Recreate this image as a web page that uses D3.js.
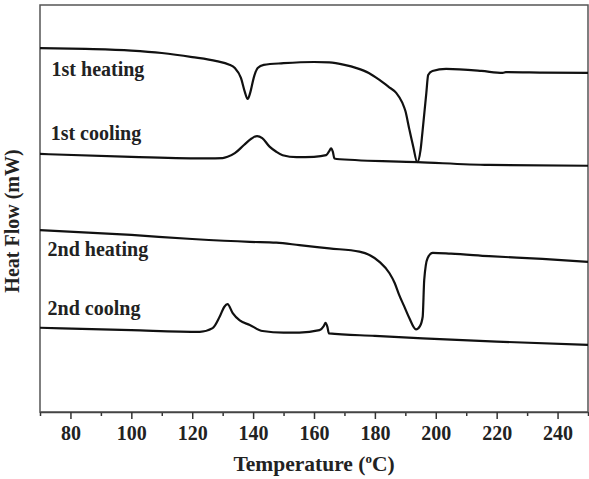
<!DOCTYPE html>
<html>
<head>
<meta charset="utf-8">
<script src="https://cdn.jsdelivr.net/npm/d3@7"></script>
<style>
    body { margin: 0; background: #fff; }
    text { font-family: "Liberation Serif", "Times New Roman", serif; font-weight: bold; fill: #222; }
</style>
</head>
<body>
<div id="chart"></div>
<script>

// temperature (°C) / heat flow (arbitrary, mW)
const heat1T = [70, 85, 100, 110, 120, 128, 132, 134, 136, 137.3, 138.2, 139.1, 140.2, 141.5, 143.5, 150, 160, 165, 170, 174, 178, 181.5, 184.5, 187, 189, 190, 191.3, 192.6, 193.9, 195, 195.6, 196.9, 197.5, 198.9, 203.4, 215, 222, 223, 235, 250];
const heat1V = [8.94, 8.92, 8.88, 8.82, 8.72, 8.62, 8.54, 8.45, 8.21, 7.86, 7.69, 7.86, 8.21, 8.45, 8.53, 8.57, 8.60, 8.59, 8.53, 8.45, 8.33, 8.16, 7.99, 7.84, 7.60, 7.40, 6.95, 6.52, 6.14, 6.44, 6.86, 7.84, 8.28, 8.38, 8.43, 8.38, 8.33, 8.35, 8.34, 8.33];

const cool1T = [70, 100, 125, 130, 131.6, 134, 137, 139.5, 141.3, 143, 145.4, 147.5, 149.7, 154.3, 160, 164, 165, 165.6, 166.2, 166.7, 168.5, 194, 217.5, 250];
const cool1V = [6.34, 6.27, 6.23, 6.24, 6.27, 6.36, 6.56, 6.72, 6.78, 6.73, 6.52, 6.40, 6.31, 6.26, 6.27, 6.31, 6.41, 6.48, 6.39, 6.23, 6.21, 6.14, 6.07, 6.05];

const heat2T = [70, 100, 120, 138.9, 147.6, 155.2, 165, 174.9, 178.2, 181.5, 184.8, 186.5, 188, 189.6, 191.3, 193.5, 194.8, 195.7, 196.2, 197.3, 199, 205, 217.5, 235, 250];
const heat2V = [4.47, 4.35, 4.25, 4.18, 4.16, 4.10, 4.02, 3.94, 3.86, 3.69, 3.41, 3.17, 2.87, 2.60, 2.31, 2.03, 2.11, 2.34, 3.24, 3.78, 3.91, 3.89, 3.83, 3.76, 3.69];

const cool2T = [70, 100, 122.5, 126.7, 129, 130.5, 131.6, 133.3, 135.6, 138.9, 143.1, 150, 155.2, 161.8, 163.2, 163.8, 164.4, 164.9, 180, 195.7, 220, 250];
const cool2V = [2.07, 2.01, 1.97, 2.06, 2.34, 2.58, 2.65, 2.43, 2.25, 2.14, 1.99, 1.95, 1.95, 2.01, 2.11, 2.19, 2.09, 1.93, 1.87, 1.81, 1.73, 1.65];

const curveNames = ["1st heating", "1st cooling", "2nd heating", "2nd coolng"];
const labelTemps = [73.8, 73.5, 72.5, 72.5];
const labelValues = [8.26, 6.68, 3.83, 2.38];

const xTicks = [80, 100, 120, 140, 160, 180, 200, 220, 240];
const xMinorTicks = [70, 90, 110, 130, 150, 170, 190, 210, 230, 250];

let margin = {top: 5, right: 1, bottom: 67, left: 40};
let width = 589 - margin.left - margin.right;
let height = 479 - margin.top - margin.bottom;

let svg = d3.select("#chart").append("svg")
    .attr("width", 589)
    .attr("height", 479)
    .append("g")
    .attr("transform", "translate(" + margin.left + "," + margin.top + ")");

let x = d3.scaleLinear().domain([70, 250]).range([0, width]);
let y = d3.scaleLinear().domain([0, 10]).range([height, 0]);

// frame
svg.append("rect")
    .attr("width", width)
    .attr("height", height)
    .attr("fill", "none")
    .attr("stroke", "#555")
    .attr("stroke-width", 1.5);

// minor ticks
let minorAxis = svg.append("g")
    .attr("transform", "translate(0," + height + ")")
    .call(d3.axisBottom(x).tickValues(xMinorTicks).tickSize(4).tickFormat(""));
minorAxis.select(".domain").remove();
minorAxis.selectAll("line").attr("stroke", "#333").attr("stroke-width", 1.5);

// major ticks
let xAxis = svg.append("g")
    .attr("transform", "translate(0," + height + ")")
    .call(d3.axisBottom(x).tickValues(xTicks).tickSize(7).tickSizeOuter(0));
xAxis.select(".domain").attr("stroke", "#444").attr("stroke-width", 1.5);
xAxis.selectAll("line").attr("stroke", "#333").attr("stroke-width", 1.5);
xAxis.selectAll("text")
    .attr("y", 28)
    .attr("dy", 0)
    .style("font-family", "'Liberation Serif', serif")
    .style("font-weight", "bold")
    .style("font-size", "20px")
    .style("fill", "#222");

// curves
let line = d3.line()
    .x(d => x(d[0]))
    .y(d => y(d[1]))
    .curve(d3.curveMonotoneX);

let series = [
    d3.zip(heat1T, heat1V),
    d3.zip(cool1T, cool1V),
    d3.zip(heat2T, heat2V),
    d3.zip(cool2T, cool2V)
];

svg.selectAll(".curve")
    .data(series)
    .enter()
    .append("path")
    .attr("class", "curve")
    .attr("d", line)
    .attr("fill", "none")
    .attr("stroke", "#111")
    .attr("stroke-width", 2.2);

// curve labels
svg.selectAll(".curve-label")
    .data(curveNames)
    .enter()
    .append("text")
    .attr("class", "curve-label")
    .attr("x", (d, i) => x(labelTemps[i]))
    .attr("y", (d, i) => y(labelValues[i]))
    .style("font-size", "20px")
    .text(d => d);

// axis titles
let xTitle = svg.append("text")
    .attr("x", width / 2)
    .attr("y", height + 59)
    .attr("text-anchor", "middle")
    .style("font-size", "21.5px");
xTitle.append("tspan").text("Temperature (");
xTitle.append("tspan").attr("dy", -8).style("font-size", "13px").text("o");
xTitle.append("tspan").attr("dy", 8).text("C)");

svg.append("text")
    .attr("transform", "translate(" + (-21) + "," + 216 + ") rotate(-90)")
    .attr("text-anchor", "middle")
    .style("font-size", "20px")
    .text("Heat Flow (mW)");

</script>
</body>
</html>
